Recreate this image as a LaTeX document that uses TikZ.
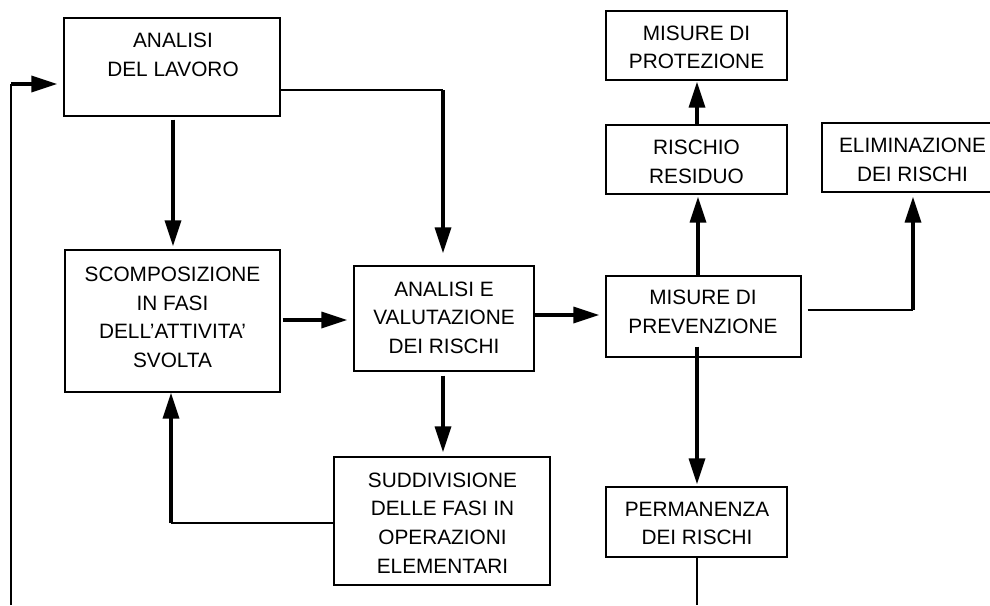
\documentclass[tikz,border=0pt]{standalone}
\usepackage{fontspec}
\setmainfont{Liberation Sans}
\usetikzlibrary{arrows.meta}
\tikzset{
  box/.style={draw, line width=1.3pt, inner sep=0pt},
  txt/.style={align=center, inner sep=0pt, font=\fontsize{20.8}{28.6}\selectfont},
  thinline/.style={line width=1.3pt},
  thk/.style={line width=3.4pt, -{Triangle[length=26pt,width=16pt]}},
}
\begin{document}
\begin{tikzpicture}[x=1pt,y=-1pt]
\useasboundingbox (0,0) rectangle (990,605);
% boxes
\node[box, minimum width=216pt, minimum height=98pt] (A) at (172,67) {};
\node[box, minimum width=215pt, minimum height=142pt] (S) at (172.5,321) {};
\node[box, minimum width=180pt, minimum height=105pt] (AE) at (444,318.5) {};
\node[box, minimum width=216pt, minimum height=128pt] (SD) at (442,521) {};
\node[box, minimum width=181pt, minimum height=69pt] (PR) at (696.5,45.5) {};
\node[box, minimum width=181pt, minimum height=69pt] (RR) at (696.5,159.5) {};
\node[box, minimum width=180pt, minimum height=69pt] (EL) at (912,157.5) {};
\node[box, minimum width=195pt, minimum height=81pt] (PV) at (703.5,316.5) {};
\node[box, minimum width=181pt, minimum height=70pt] (PE) at (696.5,522) {};
% texts
\node[txt] (At) at (173,55) {ANALISI\\DEL LAVORO};
\node[txt] (St) at (172.5,317.5) {SCOMPOSIZIONE\\IN FASI\\DELL’ATTIVITA’\\SVOLTA};
\node[txt] (AEt) at (444,317.5) {ANALISI E\\VALUTAZIONE\\DEI RISCHI};
\node[txt] (SDt) at (442.5,523) {SUDDIVISIONE\\DELLE FASI IN\\OPERAZIONI\\ELEMENTARI};
\node[txt] (PRt) at (696.5,47.5) {MISURE DI\\PROTEZIONE};
\node[txt] (RRt) at (696.5,162) {RISCHIO\\RESIDUO};
\node[txt] (ELt) at (912.5,160) {ELIMINAZIONE\\DEI RISCHI};
\node[txt] (PVt) at (703,312) {MISURE DI\\PREVENZIONE};
\node[txt] (PEt) at (697,523.5) {PERMANENZA\\DEI RISCHI};
% free ends and bends
\coordinate (lb) at (11,605);
\coordinate (lt) at (11,84);
\coordinate (ab) at (443,90);
\coordinate (sb) at (171,523);
\coordinate (eb) at (913,310);
\coordinate (pb) at (697,605);
% connectors
\draw[thinline] (lb) -- (lt);
\draw[thk, shorten >=6pt] (lt) -- (A.west |- lt);
\draw[thk, shorten <=3pt, shorten >=3pt] (A.south -| 173,0) -- (S.north -| 173,0);
\draw[thinline] (A.east |- ab) -- (ab);
\draw[thk, shorten >=12pt] (ab) -- (AE.north -| ab);
\draw[thk, shorten <=2pt, shorten >=6pt] (S.east |- 0,320) -- (AE.west |- 0,320);
\draw[thk, shorten <=4pt, shorten >=4pt] (AE.south -| 443,0) -- (SD.north -| 443,0);
\draw[thinline] (SD.west |- sb) -- (sb);
\draw[thk] (sb) -- (S.south -| sb);
\draw[thk, shorten >=6pt] (AE.east |- 0,315) -- (PV.west |- 0,315);
\draw[thk, shorten >=2pt] (PV.north -| 698,0) -- (RR.south -| 698,0);
\draw[thk, shorten >=1pt] (RR.north -| 697,0) -- (PR.south -| 697,0);
\draw[thinline, shorten <=6pt] (PV.east |- eb) -- (eb);
\draw[thk, shorten >=4pt] (eb) -- (EL.south -| eb);
\draw[thk, shorten <=-11pt, shorten >=2pt] (PV.south -| 697,0) -- (PE.north -| 697,0);
\draw[thinline] (PE.south -| pb) -- (pb);
\end{tikzpicture}
\end{document}
